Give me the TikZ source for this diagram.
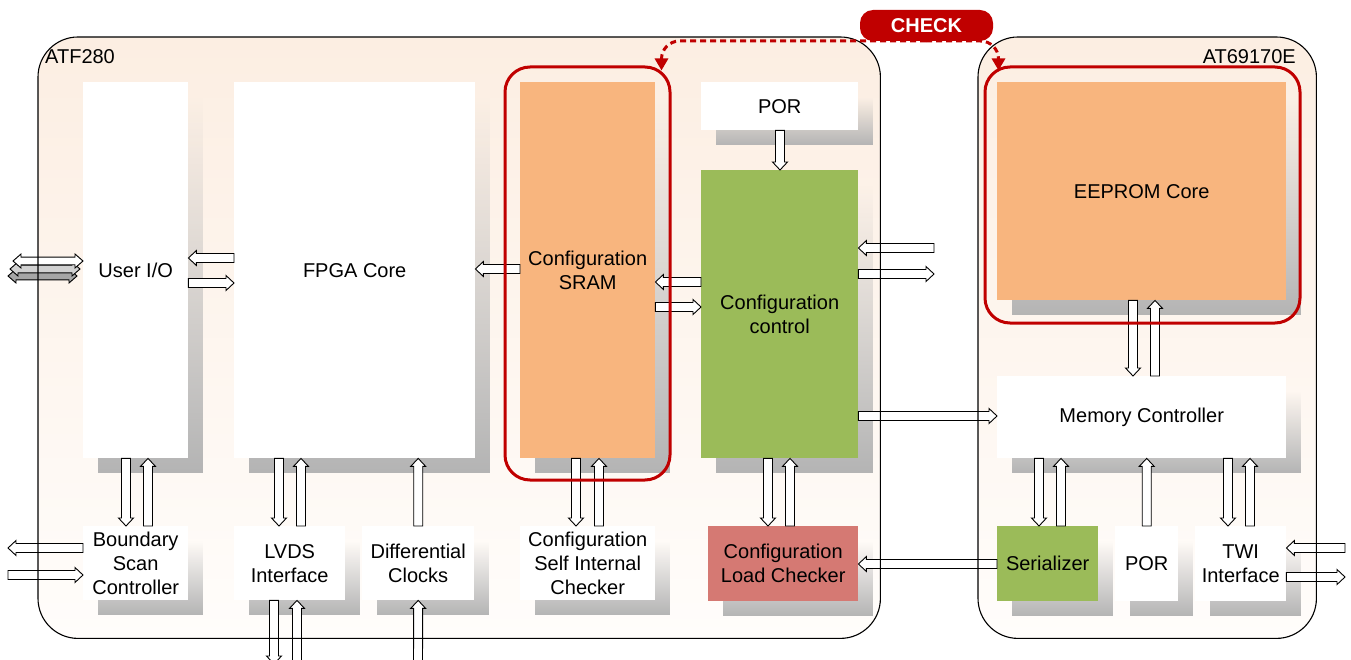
\documentclass[tikz,border=0pt]{standalone}
\usepackage{fontspec}
\setmainfont{Liberation Sans}
\usetikzlibrary{arrows.meta,shadows,fadings,fit,calc}
\definecolor{peach}{RGB}{252,238,226}
\definecolor{chipbot}{RGB}{255,253,251}
\definecolor{memorg}{RGB}{248,181,126}
\definecolor{ctlgrn}{RGB}{155,187,89}
\definecolor{chkred}{RGB}{213,121,115}
\definecolor{ringred}{RGB}{192,0,0}
\definecolor{shadegray}{RGB}{180,180,180}

\tikzset{
  chip/.style={anchor=north west, rounded corners=40pt, top color=peach, bottom color=chipbot, inner sep=0pt},
  chipline/.style={draw=black, line width=1.1pt, rounded corners=40pt},
  lbl/.style={font=\fontsize{20}{24}\selectfont, inner sep=0pt},
  blk/.style={anchor=north west, fill=white, inner sep=0pt, align=center,
    font=\fontsize{20}{24}\selectfont,
    drop shadow={shadow xshift=15pt, shadow yshift=-15pt, fill=shadegray, opacity=1, path fading=north}},
  % hollow block arrow, start to target
  barrow/.style={draw=black, fill=white, line width=0.9pt,
    to path={let \p1=($(\tikztotarget)!8pt!(\tikztostart)$) in
      ($(\tikztostart)!4.5pt!90:(\tikztotarget)$) -- ($(\p1)!4.5pt!90:(\tikztotarget)$)
      -- ($(\p1)!7.5pt!90:(\tikztotarget)$) -- (\tikztotarget)
      -- ($(\p1)!7.5pt!-90:(\tikztotarget)$) -- ($(\p1)!4.5pt!-90:(\tikztotarget)$)
      -- ($(\tikztostart)!4.5pt!-90:(\tikztotarget)$) -- cycle}},
  % hollow block arrow with two heads
  bdarrow/.style={draw=black, fill=white, line width=0.9pt,
    to path={let \p1=($(\tikztostart)!8pt!(\tikztotarget)$), \p2=($(\tikztotarget)!8pt!(\tikztostart)$) in
      (\tikztostart) -- ($(\p1)!7pt!90:(\tikztotarget)$) -- ($(\p1)!3.8pt!90:(\tikztotarget)$)
      -- ($(\p2)!3.8pt!90:(\tikztotarget)$) -- ($(\p2)!7pt!90:(\tikztotarget)$) -- (\tikztotarget)
      -- ($(\p2)!7pt!-90:(\tikztotarget)$) -- ($(\p2)!3.8pt!-90:(\tikztotarget)$)
      -- ($(\p1)!3.8pt!-90:(\tikztotarget)$) -- ($(\p1)!7pt!-90:(\tikztotarget)$) -- cycle}},
  ring/.style={draw=ringred, line width=3pt, rounded corners=25pt, inner sep=0pt},
  chkline/.style={draw=ringred, line width=3pt, dash pattern=on 6pt off 4pt, rounded corners=18pt, -{Triangle[length=12pt,width=13pt]}},
}

\begin{document}
\begin{tikzpicture}[x=1pt, y=-1pt]
   \useasboundingbox (0,0) rectangle (1351,660);
   % the two chips
   \node[chip, minimum width=842pt, minimum height=601pt] (atf) at (38,37) {};
   \node[chip, minimum width=338pt, minimum height=601pt] (atm) at (978,37) {};
   \node[lbl, anchor=base west] (atflbl) at (45,64) {ATF280};
   \node[lbl, anchor=base east] (atmlbl) at (1296,64) {AT69170E};

   % ATF280 blocks
   \node[blk, minimum width=105pt, minimum height=376pt] (uio) at (83,82) {User I/O};
   \node[blk, minimum width=241pt, minimum height=376pt] (fpga) at (234,82) {FPGA Core};
   \node[blk, fill=memorg, minimum width=135pt, minimum height=376pt] (sram) at (520,82) {Configuration\\SRAM};
   \node[blk, minimum width=157pt, minimum height=48pt] (por1) at (701,82) {POR};
   \node[blk, fill=ctlgrn, minimum width=157pt, minimum height=288pt] (cctl) at (701,170) {Configuration\\control};
   \node[blk, minimum width=105pt, minimum height=74pt] (bsc) at (83,526) {Boundary\\Scan\\Controller};
   \node[blk, minimum width=111pt, minimum height=74pt] (lvds) at (234,526) {LVDS\\Interface};
   \node[blk, minimum width=112pt, minimum height=74pt] (dclk) at (362,526) {Differential\\Clocks};
   \node[blk, minimum width=135pt, minimum height=74pt] (csic) at (520,526) {Configuration\\Self Internal\\Checker};
   \node[blk, fill=chkred, minimum width=150pt, minimum height=75pt] (clc) at (708,526) {Configuration\\Load Checker};

   % AT69170E blocks
   \node[blk, fill=memorg, minimum width=289pt, minimum height=218pt] (eep) at (997,82) {EEPROM Core};
   \node[blk, minimum width=289pt, minimum height=82pt] (memc) at (997,376) {Memory Controller};
   \node[blk, fill=ctlgrn, minimum width=101pt, minimum height=75pt] (ser) at (997,526) {Serializer};
   \node[blk, minimum width=63pt, minimum height=75pt] (por2) at (1115,526) {POR};
   \node[blk, minimum width=91pt, minimum height=75pt] (twi) at (1195,526) {TWI\\Interface};

   % free ends
   \coordinate (bscout) at (8,548);
   \coordinate (bscin) at (8,575);
   \coordinate (lvdsdn) at (274,664);
   \coordinate (lvdsup) at (297,662);
   \coordinate (dclkin) at (418,662);
   \coordinate (cfgin) at (934,248);
   \coordinate (cfgout) at (934,274);
   \coordinate (twiin) at (1345,548);
   \coordinate (twiout) at (1345,577);

   % user I/O pins
   \draw[bdarrow, fill=black!35] (8,276) to ([xshift=-6pt]uio.west |- 0,276);
   \draw[bdarrow, fill=black!18] (10,269) to ([xshift=-3pt]uio.west |- 0,269);
   \draw[bdarrow] (13,261) to (uio.west |- 0,261);

   % horizontal arrows
   \draw[barrow] (fpga.west |- 0,258) to (uio.east |- 0,258);
   \draw[barrow] (uio.east |- 0,283) to (fpga.west |- 0,283);
   \draw[barrow] (sram.west |- 0,269) to (fpga.east |- 0,269);
   \draw[barrow] (cctl.west |- 0,282) to (sram.east |- 0,282);
   \draw[barrow] (sram.east |- 0,307) to (cctl.west |- 0,307);
   \draw[barrow] (cfgin) to (cctl.east |- cfgin);
   \draw[barrow] (cctl.east |- cfgout) to (cfgout);
   \draw[barrow] (cctl.east |- 0,416) to (memc.west |- 0,416);
   \draw[barrow] (ser.west |- 0,564) to (clc.east |- 0,564);
   \draw[barrow] (bsc.west |- bscout) to (bscout);
   \draw[barrow] (bscin) to (bsc.west |- bscin);
   \draw[barrow] (twiin) to (twi.east |- twiin);
   \draw[barrow] (twi.east |- twiout) to (twiout);

   % vertical arrows
   \draw[barrow] (126,0 |- uio.south) to (126,0 |- bsc.north);
   \draw[barrow] (148,0 |- bsc.north) to (148,0 |- uio.south);
   \draw[barrow] (279,0 |- fpga.south) to (279,0 |- lvds.north);
   \draw[barrow] (301,0 |- lvds.north) to (301,0 |- fpga.south);
   \draw[barrow] (dclk.north) to (dclk.north |- fpga.south);
   \draw[barrow] (576,0 |- sram.south) to (576,0 |- csic.north);
   \draw[barrow] (599,0 |- csic.north) to (599,0 |- sram.south);
   \draw[barrow] (780,0 |- por1.south) to (780,0 |- cctl.north);
   \draw[barrow] (768,0 |- cctl.south) to (768,0 |- clc.north);
   \draw[barrow] (790,0 |- clc.north) to (790,0 |- cctl.south);
   \draw[barrow] (lvdsdn |- lvds.south) to (lvdsdn);
   \draw[barrow] (lvdsup) to (lvdsup |- lvds.south);
   \draw[barrow] (dclkin) to (dclk.south);
   \draw[barrow] (1133,0 |- eep.south) to (1133,0 |- memc.north);
   \draw[barrow] (1155,0 |- memc.north) to (1155,0 |- eep.south);
   \draw[barrow] (1039,0 |- memc.south) to (1039,0 |- ser.north);
   \draw[barrow] (1061,0 |- ser.north) to (1061,0 |- memc.south);
   \draw[barrow] (por2.north) to (por2.north |- memc.south);
   \draw[barrow] (1228,0 |- memc.south) to (1228,0 |- twi.north);
   \draw[barrow] (1250,0 |- twi.north) to (1250,0 |- memc.south);

   % chip outlines on top
   \draw[chipline] (atf.north west) rectangle (atf.south east);
   \draw[chipline] (atm.north west) rectangle (atm.south east);

   % check of the configuration
   \node[ring, fit={(505,67) (670,480)}] (sramring) {};
   \node[ring, fit={(985,67) (1300,323)}] (eepring) {};
   \draw[chkline] (926,41) -| ([xshift=-10pt,yshift=-5pt]sramring.north east);
   \draw[chkline] (926,41) -| ([xshift=15pt,yshift=-5pt]eepring.north west);
   \node[fill=ringred, text=white, rounded corners=13pt, minimum width=133pt, minimum height=31pt,
         inner sep=0pt, font=\fontsize{20}{24}\selectfont\bfseries] (check) at (926.5,25.5) {CHECK};
\end{tikzpicture}
\end{document}
